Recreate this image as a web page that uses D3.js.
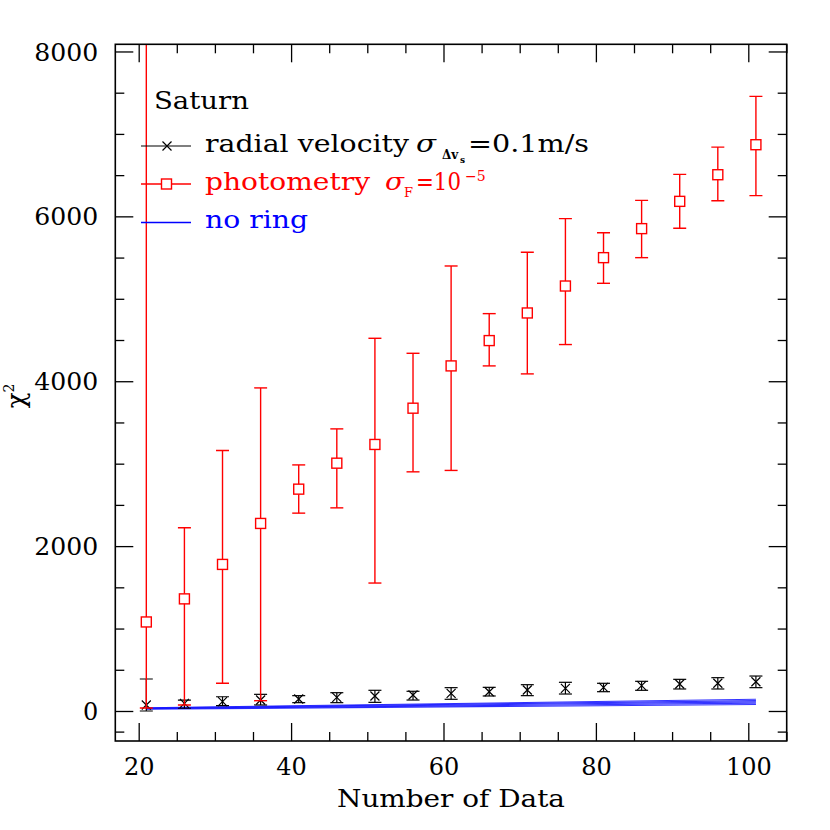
<!DOCTYPE html>
<html><head><meta charset="utf-8">
<script src="https://cdn.jsdelivr.net/npm/d3@7"></script>
<style>body{margin:0;background:#fff}</style>
</head><body><div id="chart"></div>
<script>
// ---- data ----
const nData   = [21,26,31,36,41,46,51,56,61,66,71,76,81,86,91,96,101];
const photoVal = [1080,1360,1778,2275,2691,3006,3233,3673,4186,4493,4828,5155,5499,5851,6182,6505,6869];
const photoHi  = [12000,2222,3160,3919,2985,3422,4521,4339,5398,4820,5564,5972,5802,6194,6509,6840,7455];
const photoLo  = [36,73,336,125,2400,2464,1552,2901,2918,4186,4089,4445,5188,5499,5855,6190,6251];
const rvVal = [73,93,113,133,145,166,182,194,214,234,255,275,287,307,327,336,355];
const rvHi  = [388,133,173,202,186,222,251,239,283,287,319,348,336,360,384,404,424];
const rvLo  = [0,33,64,73,101,101,105,133,142,182,186,206,234,251,267,267,283];
const noRingN     = [21,101];
const noRingLines = [[22,78],[27,95],[31,110],[36,126],[40,142]];
const xTicksMajor = [20,40,60,80,100];
const xTicksMinor = [25,30,35,45,50,55,65,70,75,85,90,95,105];
const yTicksMajor = [0,2000,4000,6000,8000];
const yTicksMinor = [-250,500,1000,1500,2500,3000,3500,4500,5000,5500,6500,7000,7500];
const yTickLabels = ["0","2000","4000","6000","8000"];
const xTickLabels = ["20","40","60","80","100"];

// ---- layout ----
const W=830,H=830;
const m={top:44.3,right:43.3,bottom:89,left:115.3};
const x = d3.scaleLinear().domain([16.93,105.04]).range([m.left, W-m.right]);
const y = d3.scaleLinear().domain([-364,8087]).range([H-m.bottom, m.top]);
const svg = d3.select("#chart").append("svg").attr("width",W).attr("height",H)
  .style("font-family","'DejaVu Serif', serif");

svg.append("defs").append("clipPath").attr("id","clip").append("rect")
  .attr("x",m.left).attr("y",m.top).attr("width",W-m.left-m.right).attr("height",H-m.top-m.bottom);

const plot = svg.append("g").attr("clip-path","url(#clip)");

// no ring lines
const line = d3.line().x(d=>x(d[0])).y(d=>y(d[1]));
noRingLines.forEach(v=>{
  plot.append("path").datum(noRingN.map((n,i)=>[n,v[i]]))
    .attr("d",line).attr("fill","none").attr("stroke","#1010ff").attr("stroke-width",1.1).attr("opacity",0.85);
});

// radial velocity (black)
const cap=6.5;
const rv = plot.append("g").attr("stroke","#000").attr("stroke-width",1.2).attr("fill","none");
nData.forEach((n,i)=>{
  const cx=x(n);
  rv.append("line").attr("x1",cx).attr("x2",cx).attr("y1",y(rvLo[i])).attr("y2",y(rvHi[i]));
  rv.append("line").attr("x1",cx-cap).attr("x2",cx+cap).attr("y1",y(rvLo[i])).attr("y2",y(rvLo[i]));
  rv.append("line").attr("x1",cx-cap).attr("x2",cx+cap).attr("y1",y(rvHi[i])).attr("y2",y(rvHi[i]));
  const cy=y(rvVal[i]), s=4.5;
  rv.append("path").attr("d",`M${cx-s},${cy-s}L${cx+s},${cy+s}M${cx-s},${cy+s}L${cx+s},${cy-s}`);
});

// photometry (red)
const ph = plot.append("g").attr("stroke","#ff0000").attr("stroke-width",1.4).attr("fill","none");
nData.forEach((n,i)=>{
  const cx=x(n), cy=y(photoVal[i]);
  ph.append("line").attr("x1",cx).attr("x2",cx).attr("y1",y(photoLo[i])).attr("y2",cy+5);
  ph.append("line").attr("x1",cx).attr("x2",cx).attr("y1",cy-5).attr("y2",y(photoHi[i]));
  ph.append("line").attr("x1",cx-cap).attr("x2",cx+cap).attr("y1",y(photoLo[i])).attr("y2",y(photoLo[i]));
  ph.append("line").attr("x1",cx-cap).attr("x2",cx+cap).attr("y1",y(photoHi[i])).attr("y2",y(photoHi[i]));
  ph.append("rect").attr("x",cx-5).attr("y",cy-5).attr("width",10).attr("height",10);
});

// ---- axes ----
function styleAxis(g){ g.select(".domain").remove(); g.selectAll("line").attr("stroke","#000").attr("stroke-width",1.3); }
const bottomY=H-m.bottom, leftX=m.left, rightX=W-m.right, topY=m.top;
svg.append("g").attr("transform",`translate(0,${bottomY})`)
  .call(d3.axisBottom(x).tickValues(xTicksMajor).tickSize(-18).tickFormat((d,i)=>xTickLabels[i]))
  .call(styleAxis)
  .call(g=>g.selectAll("text").attr("y",34).attr("dy",0).attr("font-size",24).attr("fill","#000")
    .style("font-family","'DejaVu Serif', serif"));
svg.append("g").attr("transform",`translate(0,${bottomY})`)
  .call(d3.axisBottom(x).tickValues(xTicksMinor).tickSize(-9).tickFormat("")).call(styleAxis);
svg.append("g").attr("transform",`translate(0,${topY})`)
  .call(d3.axisTop(x).tickValues(xTicksMajor).tickSize(-18).tickFormat("")).call(styleAxis);
svg.append("g").attr("transform",`translate(0,${topY})`)
  .call(d3.axisTop(x).tickValues(xTicksMinor).tickSize(-9).tickFormat("")).call(styleAxis);
svg.append("g").attr("transform",`translate(${leftX},0)`)
  .call(d3.axisLeft(y).tickValues(yTicksMajor).tickSize(-18).tickFormat((d,i)=>yTickLabels[i]))
  .call(styleAxis)
  .call(g=>g.selectAll("text").attr("x",-17).attr("dy","0.36em").attr("font-size",24).attr("fill","#000")
    .style("font-family","'DejaVu Serif', serif")
    .each(function(d,i){ if(yTickLabels[i].length===4){ d3.select(this).attr("textLength",64).attr("lengthAdjust","spacingAndGlyphs"); } }));
svg.append("g").attr("transform",`translate(${leftX},0)`)
  .call(d3.axisLeft(y).tickValues(yTicksMinor).tickSize(-9).tickFormat("")).call(styleAxis);
svg.append("g").attr("transform",`translate(${rightX},0)`)
  .call(d3.axisRight(y).tickValues(yTicksMajor).tickSize(-18).tickFormat("")).call(styleAxis);
svg.append("g").attr("transform",`translate(${rightX},0)`)
  .call(d3.axisRight(y).tickValues(yTicksMinor).tickSize(-9).tickFormat("")).call(styleAxis);

// frame
svg.append("rect").attr("x",leftX).attr("y",topY).attr("width",rightX-leftX).attr("height",bottomY-topY)
  .attr("fill","none").attr("stroke","#000").attr("stroke-width",1.6);

// axis titles
svg.append("text").attr("x",451).attr("y",807).attr("text-anchor","middle").attr("font-size",24)
  .attr("textLength",228).attr("lengthAdjust","spacingAndGlyphs").text("Number of Data");
const yl = svg.append("text").attr("transform","translate(25,396) rotate(-90)").attr("text-anchor","middle").attr("font-size",26);
yl.append("tspan").text("χ");
yl.append("tspan").attr("font-size",14).attr("dy",-11).text("2");

// ---- legend ----
const lg = svg.append("g");
lg.append("text").attr("x",154).attr("y",109).attr("font-size",24).attr("textLength",95)
  .attr("lengthAdjust","spacingAndGlyphs").text("Saturn");
// black
lg.append("line").attr("x1",141).attr("x2",191).attr("y1",146).attr("y2",146).attr("stroke","#000").attr("stroke-width",1.2);
lg.append("path").attr("d","M162.5,141.5L171.5,150.5M162.5,150.5L171.5,141.5").attr("stroke","#000").attr("stroke-width",1.2);
lg.append("text").attr("x",205).attr("y",152).attr("font-size",24).attr("textLength",204).attr("lengthAdjust","spacingAndGlyphs").text("radial velocity");
lg.append("text").attr("x",416).attr("y",152).attr("font-size",24).attr("font-style","italic").attr("textLength",20).attr("lengthAdjust","spacingAndGlyphs").text("σ");
lg.append("text").attr("x",442).attr("y",159).attr("font-size",12).attr("font-weight","bold").text("Δv");
lg.append("text").attr("x",460).attr("y",163).attr("font-size",9).attr("font-weight","bold").text("s");
lg.append("text").attr("x",468).attr("y",152).attr("font-size",24).attr("textLength",121).attr("lengthAdjust","spacingAndGlyphs").text("=0.1m/s");
// red
lg.append("line").attr("x1",141).attr("x2",191).attr("y1",184).attr("y2",184).attr("stroke","#f00").attr("stroke-width",1.4);
lg.append("rect").attr("x",161.5).attr("y",179).attr("width",10).attr("height",10).attr("fill","#fff").attr("stroke","#f00").attr("stroke-width",1.4);
const red = lg.append("g").attr("fill","#f00");
red.append("text").attr("x",205).attr("y",190).attr("font-size",24).attr("textLength",165).attr("lengthAdjust","spacingAndGlyphs").text("photometry");
red.append("text").attr("x",385).attr("y",190).attr("font-size",24).attr("font-style","italic").attr("textLength",19).attr("lengthAdjust","spacingAndGlyphs").text("σ");
red.append("text").attr("x",404).attr("y",197).attr("font-size",13).text("F");
red.append("text").attr("x",416).attr("y",190).attr("font-size",24).attr("textLength",45).attr("lengthAdjust","spacingAndGlyphs").text("=10");
red.append("text").attr("x",465).attr("y",181).attr("font-size",14).text("−5");
// blue
lg.append("line").attr("x1",141).attr("x2",191).attr("y1",222.5).attr("y2",222.5).attr("stroke","#00f").attr("stroke-width",1.3);
lg.append("text").attr("x",205).attr("y",228).attr("font-size",24).attr("fill","#00f").attr("textLength",103).attr("lengthAdjust","spacingAndGlyphs").text("no ring");
</script></body></html>
